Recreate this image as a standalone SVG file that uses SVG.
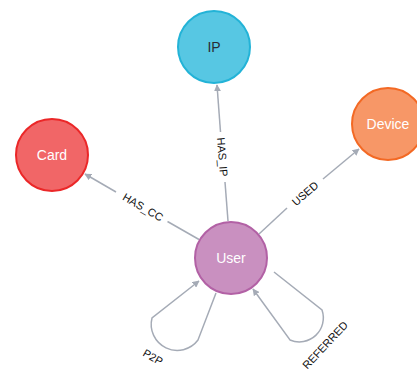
<svg xmlns="http://www.w3.org/2000/svg" width="417" height="371" viewBox="0 0 417 371">
<style>
.node circle{stroke-width:2}
.nl{font-family:"Liberation Sans",Arial,sans-serif;font-size:14px;text-anchor:middle;dominant-baseline:central;fill:#fff}
.edge{fill:none;stroke:#a5abb6;stroke-width:1.5}
.el{font-family:"Liberation Sans",Arial,sans-serif;font-size:11px;text-anchor:middle;dominant-baseline:central;fill:#111}
</style>
<defs>
<marker id="arr" viewBox="0 0 10 10" refX="9" refY="5" markerWidth="7" markerHeight="7" markerUnits="userSpaceOnUse" orient="auto"><path d="M0,0 L10,5 L0,10 z" fill="#a5abb6"/></marker>
</defs>
<rect width="417" height="371" fill="#fff"/>
<g id="connectors">
<path class="edge" d="M199,239.5 L167.5,221.5"/>
<path class="edge" d="M116,192 L85,174" marker-end="url(#arr)"/>
<path class="edge" d="M228,221 L225,182"/>
<path class="edge" d="M220.5,132 L217,85" marker-end="url(#arr)"/>
<path class="edge" d="M259,234 L287,208"/>
<path class="edge" d="M323,179 L359,149" marker-end="url(#arr)"/>
<path class="edge" d="M216,293 L198,340 A26,26 0 0 1 152,318 L199,281" marker-end="url(#arr)"/>
<path class="edge" d="M274,272 L322,310 A24,24 0 0 1 290,340 L253,289" marker-end="url(#arr)"/>
<text class="el" transform="translate(143,207) rotate(30)">HAS_CC</text>
<text class="el" transform="translate(222.5,157) rotate(85.4)">HAS_IP</text>
<text class="el" transform="translate(305,193.5) rotate(-40.5)">USED</text>
<text class="el" transform="translate(153,357) rotate(30)">P2P</text>
<text class="el" transform="translate(325,345) rotate(-47)">REFERRED</text>
</g>
<g id="node-ip" class="node"><circle cx="214" cy="47" r="36" fill="#57c7e3" stroke="#23b3d7"/><text class="nl" x="214" y="47" fill="#2a2c34" style="fill:#2a2c34">IP</text></g>
<g id="node-device" class="node"><circle cx="388" cy="124" r="36" fill="#f79767" stroke="#f36924"/><text class="nl" x="388" y="124">Device</text></g>
<g id="node-card" class="node"><circle cx="52" cy="155" r="36" fill="#f16667" stroke="#eb2728"/><text class="nl" x="52" y="155">Card</text></g>
<g id="node-user" class="node"><circle cx="231" cy="258" r="36" fill="#c990c0" stroke="#b261a5"/><text class="nl" x="231" y="258">User</text></g>
</svg>
